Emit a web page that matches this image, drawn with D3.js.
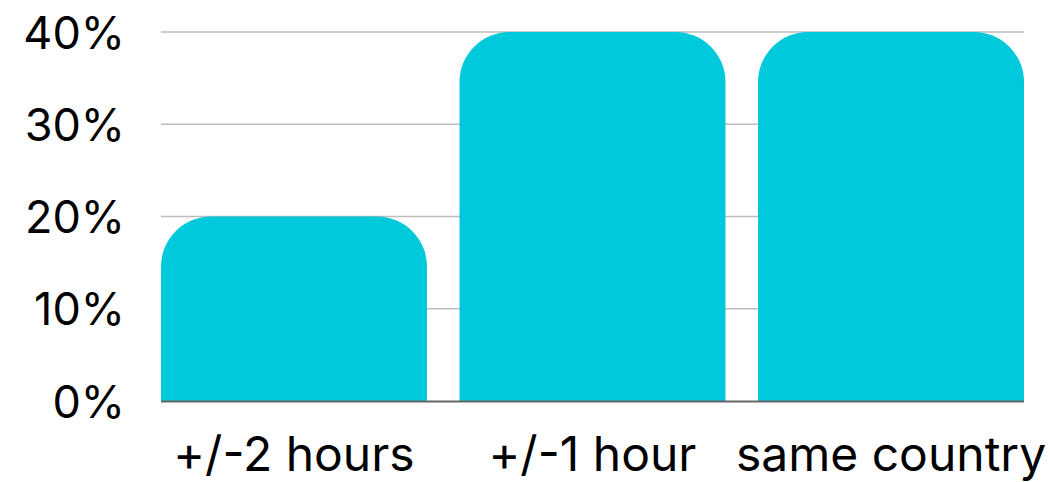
<!DOCTYPE html>
<html>
<head>
<meta charset="utf-8">
<script src="https://cdn.jsdelivr.net/npm/d3@7"></script>
<style>
  html, body { margin: 0; padding: 0; background: #fff; }
  svg { display: block; }
  text { font-family: Inter, "Noto Sans", sans-serif; fill: #000; }
</style>
</head>
<body>
<svg id="chart" width="1050" height="482"></svg>
<script>
// Share of responses by time-zone overlap
const categories = ["+/-2 hours", "+/-1 hour", "same country"];
const values = [20, 40, 40];
const yTicks = [0, 10, 20, 30, 40];
const yTickLabels = ["0%", "10%", "20%", "30%", "40%"];

(function () {
  const svg = d3.select("#chart");
  const plot = { left: 161, right: 1024, top: 32, bottom: 401 };

  const x = d3.scaleBand()
    .domain(categories)
    .range([plot.left, plot.right])
    .paddingInner(0.109)
    .paddingOuter(0);

  const y = d3.scaleLinear().domain([0, 40]).range([plot.bottom, plot.top]);

  // grid lines
  svg.append("g")
    .selectAll("line")
    .data(yTicks.filter(d => d > 0))
    .join("line")
    .attr("x1", plot.left).attr("x2", plot.right)
    .attr("y1", d => y(d)).attr("y2", d => y(d))
    .attr("stroke", "#bdbdbd")
    .attr("stroke-width", 1.5);

  // y tick labels
  svg.append("g")
    .selectAll("text")
    .data(yTicks)
    .join("text")
    .attr("x", 125)
    .attr("y", d => y(d))
    .attr("text-anchor", "end")
    .attr("dominant-baseline", "central")
    .style("font-size", "45px")
    .text((d, i) => yTickLabels[i]);

  // bars with rounded top corners
  const r = 50;
  function barPath(d, i) {
    const x0 = x(categories[i]), w = x.bandwidth();
    const yt = y(d), yb = y(0);
    const rr = Math.min(r, (yb - yt), w / 2);
    return `M${x0},${yb}V${yt + rr}A${rr},${rr} 0 0 1 ${x0 + rr},${yt}` +
           `H${x0 + w - rr}A${rr},${rr} 0 0 1 ${x0 + w},${yt + rr}V${yb}Z`;
  }
  svg.append("g")
    .selectAll("path")
    .data(values)
    .join("path")
    .attr("d", barPath)
    .attr("fill", "#00c9db");

  // baseline
  svg.append("line")
    .attr("x1", plot.left).attr("x2", plot.right)
    .attr("y1", y(0) + 0.5).attr("y2", y(0) + 0.5)
    .attr("stroke", "#666")
    .attr("stroke-width", 2);

  // x category labels
  svg.append("g")
    .selectAll("text")
    .data(categories)
    .join("text")
    .attr("x", d => x(d) + x.bandwidth() / 2)
    .attr("y", 471)
    .attr("text-anchor", "middle")
    .style("font-size", "48px")
    .text(d => d);
})();
</script>
</body>
</html>
